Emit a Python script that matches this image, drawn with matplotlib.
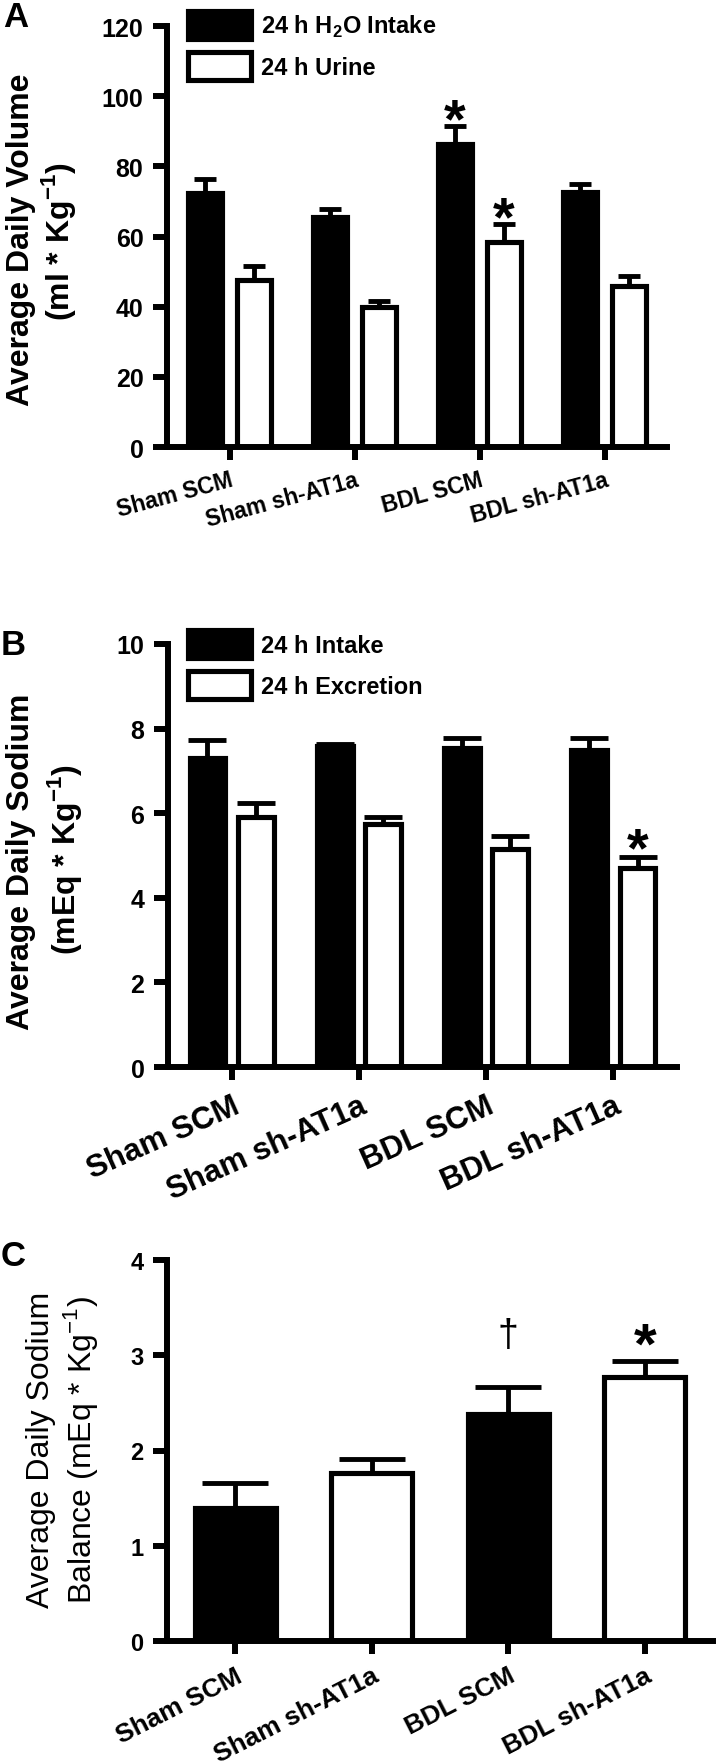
import matplotlib
matplotlib.use("Agg")
import matplotlib.pyplot as plt
import numpy as np

plt.rcParams["font.family"] = ["Liberation Sans", "DejaVu Sans"]

groups = ["Sham SCM", "Sham sh-AT1a", "BDL SCM", "BDL sh-AT1a"]

# A: average daily volume (ml/kg)
h2o_intake = [72.5, 65.5, 86.5, 72.8]
h2o_intake_sem = [4.0, 2.2, 5.0, 2.2]
urine = [47.5, 40.0, 58.5, 46.0]
urine_sem = [4.0, 1.6, 5.0, 2.8]

# B: average daily sodium (mEq/kg)
na_intake = [7.3, 7.6, 7.55, 7.5]
na_intake_sem = [0.42, 0.03, 0.22, 0.27]
na_excretion = [5.9, 5.75, 5.15, 4.7]
na_excretion_sem = [0.35, 0.15, 0.30, 0.27]

# C: average daily sodium balance (mEq/kg)
na_balance = [1.40, 1.76, 2.38, 2.77]
na_balance_sem = [0.26, 0.15, 0.29, 0.17]
balance_colors = ["black", "white", "black", "white"]

# significance marks: (group index, series index, symbol)
marks_a = [(2, 0, "*"), (2, 1, "*")]
marks_b = [(3, 1, "*")]
marks_c = [(2, 0, "\u2020"), (3, 0, "*")]

W, H = 720, 1765
fig = plt.figure(figsize=(W / 100, H / 100), dpi=100)


def px_axes(left, top, right, bottom):
    return fig.add_axes([left / W, 1 - bottom / H, (right - left) / W, (bottom - top) / H])


def style_axes(ax, ymax, ystep, tick_fs, lab_fs, rot, pad):
    for s in ("top", "right"):
        ax.spines[s].set_visible(False)
    for s in ("left", "bottom"):
        ax.spines[s].set_linewidth(4.3)
    ax.set_xlim(-0.5, 3.5)
    ax.set_ylim(0, ymax)
    ax.set_yticks(np.arange(0, ymax + ystep / 2, ystep))
    ax.tick_params(axis="y", length=10, width=4.3, pad=7, labelsize=tick_fs)
    ax.tick_params(axis="x", length=9, width=4.3, pad=pad, labelsize=lab_fs)
    ax.set_xticks(range(len(groups)))
    ax.set_xticklabels(groups, rotation=rot, ha="right", rotation_mode="anchor", fontweight="bold")
    for t in ax.get_yticklabels():
        t.set_fontweight("bold")


def add_mark(ax, x, top, s, above_px, fs, weight, frac):
    # place glyph so its ink centre sits above_px over the error cap
    em = fs * 100 / 72
    ax.annotate(s, xy=(x, top), xytext=(0, above_px - frac * em), textcoords="offset pixels",
                ha="center", va="baseline", fontsize=fs, fontweight=weight)


def grouped(ax, series, width, off, capsize, labels):
    x = np.arange(len(groups))
    tops = []
    for (vals, errs), fc, dx, lab in zip(series, ("black", "white"), (-off, off), labels):
        ax.bar(x + dx, vals, width, color=fc, edgecolor="black", linewidth=3.7, label=lab, zorder=2)
        ax.errorbar(x + dx, vals, yerr=[np.zeros(len(vals)), errs], fmt="none", ecolor="black",
                    elinewidth=3.5, capsize=capsize, capthick=3.5, zorder=1)
        tops.append((x + dx, np.array(vals) + np.array(errs)))
    return tops


def add_legend(ax, top_px):
    ax.legend(loc="upper left", bbox_to_anchor=(188 / W, 1 - top_px / H), bbox_transform=fig.transFigure,
              frameon=False, prop={"weight": "bold", "size": 17}, handlelength=2.65, handleheight=1.45,
              handletextpad=0.45, labelspacing=0.55, borderpad=0, borderaxespad=0)


# ---- panel A
axA = px_axes(167, 27, 667, 448)
topsA = grouped(axA, [(h2o_intake, h2o_intake_sem), (urine, urine_sem)], 0.27, 0.195, 8,
                ["24 h H$_{\\mathregular{2}}$O Intake", "24 h Urine"])
style_axes(axA, 120, 20, 18, 16.5, 15, 6)
for g, si, s in marks_a:
    add_mark(axA, topsA[si][0][g], topsA[si][1][g], s, 21, 40, "bold", 0.56)
add_legend(axA, 12)

# ---- panel B
axB = px_axes(168, 645, 677, 1068)
topsB = grouped(axB, [(na_intake, na_intake_sem), (na_excretion, na_excretion_sem)], 0.28, 0.19, 14,
                ["24 h Intake", "24 h Excretion"])
style_axes(axB, 10, 2, 18, 22.5, 24, 8)
for g, si, s in marks_b:
    add_mark(axB, topsB[si][0][g], topsB[si][1][g], s, 23, 40, "bold", 0.56)
add_legend(axB, 631)

# ---- panel C
axC = px_axes(167, 1261, 713, 1642)
xc = np.arange(len(groups))
axC.bar(xc, na_balance, 0.59, color=balance_colors, edgecolor="black", linewidth=3.7, zorder=2)
axC.errorbar(xc, na_balance, yerr=[np.zeros(len(xc)), na_balance_sem], fmt="none", ecolor="black",
             elinewidth=3.5, capsize=24, capthick=3.5, zorder=1)
style_axes(axC, 4, 1, 17, 19, 27, 7)
topC = np.array(na_balance) + np.array(na_balance_sem)
for g, si, s in marks_c:
    if s == "*":
        add_mark(axC, xc[g], topC[g], s, 31, 42, "bold", 0.56)
    else:
        add_mark(axC, xc[g], topC[g], s, 52, 27, "normal", 0.285)

# ---- y labels and panel letters
fig.text(21 / W, 1 - 240 / H, "Average Daily Volume", rotation=90, ha="center", va="center",
         fontsize=23, fontweight="bold")
fig.text(59 / W, 1 - 242 / H, "(ml * Kg$^{\\mathregular{-1}}$)", rotation=90, ha="center", va="center",
         fontsize=23, fontweight="bold")
fig.text(21 / W, 1 - 862 / H, "Average Daily Sodium", rotation=90, ha="center", va="center",
         fontsize=23, fontweight="bold")
fig.text(64 / W, 1 - 860 / H, "(mEq * Kg$^{\\mathregular{-1}}$)", rotation=90, ha="center", va="center",
         fontsize=23, fontweight="bold")
fig.text(41 / W, 1 - 1450 / H, "Average Daily Sodium", rotation=90, ha="center", va="center",
         fontsize=23)
fig.text(81 / W, 1 - 1450 / H, "Balance (mEq * Kg$^{\\mathregular{-1}}$)", rotation=90, ha="center",
         va="center", fontsize=23)

fig.text(3 / W, 1 - 27 / H, "A", fontsize=25, fontweight="bold", va="baseline")
fig.text(1 / W, 1 - 655 / H, "B", fontsize=25, fontweight="bold", va="baseline")
fig.text(1 / W, 1 - 1266 / H, "C", fontsize=25, fontweight="bold", va="baseline")

fig.savefig("out.png", dpi=100)
